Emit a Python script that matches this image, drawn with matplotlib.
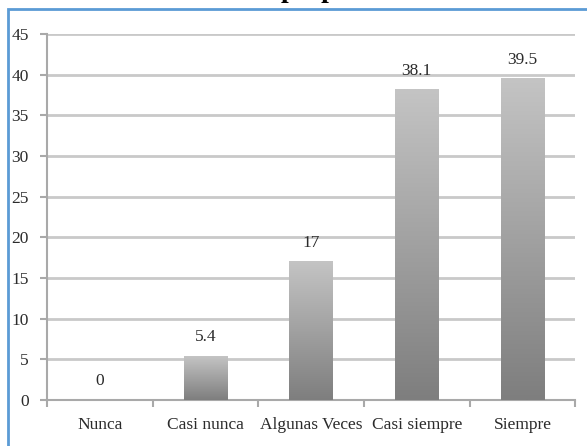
import matplotlib

matplotlib.use("Agg")
import numpy as np
from matplotlib import pyplot as plt
from matplotlib.patches import Rectangle

categories = ["Nunca", "Casi nunca", "Algunas Veces", "Casi siempre", "Siempre"]
values = [0, 5.4, 17, 38.1, 39.5]
value_labels = ["0", "5.4", "17", "38.1", "39.5"]
yticks = [0, 5, 10, 15, 20, 25, 30, 35, 40, 45]

FONT = "Liberation Serif"
GRID = "#c9c9c9"
AXIS = "#a9a9a9"
TEXT = "#2b2b2b"
BORDER = "#5b9bd5"

fig = plt.figure(figsize=(5.87, 4.46), dpi=100)
fig.patch.set_facecolor("white")
ax = fig.add_axes([0.080, 0.103, 0.900, 0.821])

x = np.arange(len(categories))
bars = ax.bar(x, values, width=0.41, color="none", zorder=3)

# vertical gradient: light at top, darker at bottom
grad = np.linspace(0, 1, 256).reshape(-1, 1)
cmap = matplotlib.colors.LinearSegmentedColormap.from_list("g", ["#7e7e7e", "#c4c4c4"])
for b in bars:
    h = b.get_height()
    if h <= 0:
        continue
    x0 = b.get_x()
    ax.imshow(grad, cmap=cmap, aspect="auto", origin="lower",
              extent=(x0, x0 + b.get_width(), 0, h), zorder=3)

for xi, v, lab in zip(x, values, value_labels):
    ax.annotate(lab, (xi, v), xytext=(0, 8), textcoords="offset points",
                ha="center", va="bottom", fontsize=12.5, family=FONT, color=TEXT)

ax.set_xlim(-0.5, len(categories) - 0.5)
ax.set_ylim(0, 45)
ax.set_yticks(yticks)
ax.set_yticklabels([str(t) for t in yticks], family=FONT, fontsize=12.5, color=TEXT)
ax.set_xticks(x)
ax.set_xticklabels(categories, family=FONT, fontsize=12.5, color=TEXT)
ax.set_xticks(np.arange(len(categories) + 1) - 0.5, minor=True)
ax.tick_params(axis="x", which="major", length=0, pad=12)
ax.tick_params(axis="x", which="minor", length=5, color=AXIS, width=1.5)
ax.tick_params(axis="y", length=5, color=AXIS, width=1.5, pad=8)

ax.grid(axis="y", color=GRID, linewidth=2)
ax.set_axisbelow(True)
for s in ("top", "right"):
    ax.spines[s].set_visible(False)
for s in ("left", "bottom"):
    ax.spines[s].set_color(AXIS)
    ax.spines[s].set_linewidth(1.5)

# blue frame running off the right and bottom edges
fig.patches.append(Rectangle((8 / 587, -0.05), 1.2, 1.0 - 9 / 446 + 0.05,
                             transform=fig.transFigure, fill=False,
                             edgecolor=BORDER, linewidth=2))

# title cut off by the top edge, as in the source image
fig.text(281 / 587, 1.0 + 3 / 446, "propia", ha="left", va="baseline",
         fontsize=20, fontweight="bold", family=FONT, color="black")

fig.savefig("out.png", dpi=100, facecolor="white")
